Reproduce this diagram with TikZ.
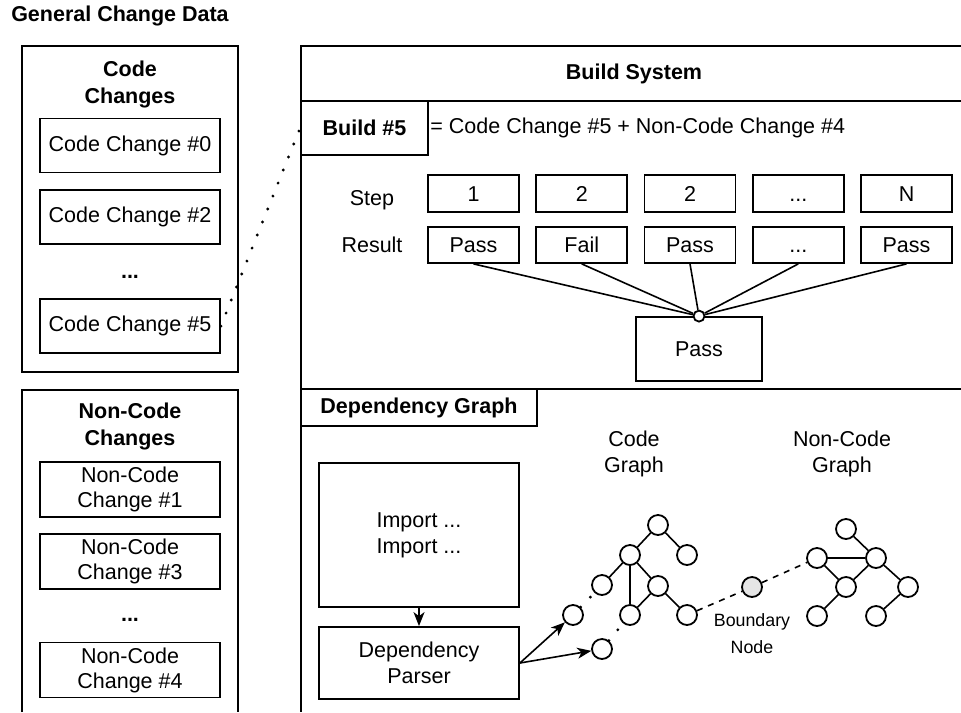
\documentclass[tikz,border=0pt]{standalone}
\usepackage{fontspec}
\setmainfont{Liberation Sans}
\usetikzlibrary{arrows.meta}
\newcommand{\stepDots}{...}

\begin{document}
\begin{tikzpicture}
[x=0.5pt,y=-0.5pt,
  font=\fontsize{10.75}{13}\selectfont,
  boxDecorate/.style={draw,line width=0.9pt,inner sep=0pt,align=center},
  stepDecorate/.style={boxDecorate,minimum width=45.5pt,text height=7.7pt,text depth=0pt},
  titleDecorate/.style={font=\fontsize{10.75}{13.5}\selectfont\bfseries,align=center,inner sep=0pt},
  circleDecorate/.style={shape=circle,draw,line width=0.9pt,minimum size=10pt,inner sep=0pt},
  lineDecorate/.style={-,line width=0.8pt},
  arrowDecorate/.style={-{Stealth[length=7pt,width=5.5pt,inset=2pt]},line width=0.8pt},
  dashDecorate/.style={line width=0.8pt,dash pattern=on 3pt off 3pt},
  dotDecorate/.style={line width=1.6pt,line cap=round,dash pattern=on 0pt off 7pt}]
\fill[white] (0,0) rectangle (961,712);
\useasboundingbox (0,0) rectangle (961,712);

%% frames
\draw[line width=0.9pt] (22,46) rectangle (238,372);
\draw[line width=0.9pt] (22,712) |- (238,390) -- (238,712);
\draw[line width=0.9pt] (961,46) -| (301,712);
\draw[line width=0.9pt] (301,101) -- (961,101) (301,389) -- (961,389);

%% general change data
\node[titleDecorate] (general) at (120,16) {General Change Data};
\node[titleDecorate] (codeTitle) at (130,84) {Code\\Changes};
\foreach \name/\y/\num in {cc0/145.5/0, cc2/217/2, cc5/326/5}
{
  \node[boxDecorate,minimum width=90pt,minimum height=27pt] (\name) at (130,\y) {Code Change \#\num};
}
\node[titleDecorate] (codeDots) at (130,277) {...};
\node[titleDecorate] (nonCodeTitle) at (130,426.5) {Non-Code\\Changes};
\foreach \name/\y/\num in {nc1/489.5/1, nc3/561.5/3, nc4/670/4}
{
  \node[boxDecorate,minimum width=90pt,minimum height=27.5pt,font=\fontsize{10.75}{12.5}\selectfont] (\name) at (130,\y) {Non-Code\\Change \#\num};
}
\node[titleDecorate] (nonCodeDots) at (130,620) {...};

%% build system
\node[titleDecorate] (buildTitle) at (634,73.5) {Build System};
\node[boxDecorate,minimum width=63.5pt,minimum height=27pt,font=\fontsize{10.75}{13}\selectfont\bfseries] (build) at (364.5,128) {Build \#5};
\node[anchor=west,inner sep=0pt] (formula) at (430,128) {= Code Change \#5 + Non-Code Change \#4};
\node (stepLabel) at (372,200) {Step};
\node (resultLabel) at (372,245) {Result};
\foreach \i/\step/\res in {0/1/Pass, 1/2/Fail, 2/2/Pass, 3/\stepDots/\stepDots, 4/N/Pass}
{
  \node[stepDecorate,minimum height=18.5pt] (step\i) at (473.5+108.25*\i,193.5) {\step};
  \node[stepDecorate,minimum height=18pt] (res\i) at (473.5+108.25*\i,245) {\res};
}
\node[boxDecorate,minimum width=63pt,minimum height=32pt] (pass) at (699,349) {Pass};
\node[circleDecorate,minimum size=5.5pt,fill=white] (junc) at (pass.north) {};
\foreach \i in {0,...,4}
{
  \draw[lineDecorate] (res\i.south) -- (junc);
}
\draw[dotDecorate] (cc5.east) -- (build.west);

%% dependency graph
\node[boxDecorate,minimum width=118pt,minimum height=18.5pt,font=\fontsize{10.75}{13}\selectfont\bfseries] (depTitle) at (419,407.5) {Dependency Graph};
\node[boxDecorate,minimum width=100pt,minimum height=72pt] (import) at (419,535) {Import ...\\Import ...};
\node[boxDecorate,minimum width=100pt,minimum height=36pt] (parser) at (419,663) {Dependency\\Parser};
\node[align=center] (codeLabel) at (634,453.5) {Code\\Graph};
\node[align=center] (nonCodeLabel) at (842,453.5) {Non-Code\\Graph};
\node[align=center,font=\fontsize{8.9}{13.5}\selectfont] (bndLabel) at (752,633.5) {Boundary\\Node};
\foreach \name/\x/\y in {
  %% code graph
  c1/658/525, c2/630/555, c3/687/555, c4/602/585, c5/658/586,
  c6/630/615, c7/687/615, c8/573/615, c9/602/649,
  %% non-code graph
  n1/846/529, n2/817/558, n3/876/558, n4/846/587, n5/908/587,
  n6/817/616, n7/876/616}
{
  \node[circleDecorate] (\name) at (\x,\y) {};
}
\node[circleDecorate,fill=black!10] (bnd) at (752,587) {};
\path
\foreach \startnode/\endnode in {
  c1/c2, c1/c3, c2/c4, c2/c6, c2/c5, c5/c6, c5/c7,
  n1/n3, n2/n3, n2/n4, n3/n4, n3/n5, n4/n6, n5/n7}
{
  (\startnode) edge[lineDecorate] (\endnode)
};
\draw[dotDecorate] (c8) -- (c4);
\draw[dotDecorate] (c9) -- (c6);
\draw[dashDecorate] (c7) -- (bnd) -- (n2);
\draw[arrowDecorate] (import) -- (parser);
\draw[arrowDecorate] (parser.east) -- (c8);
\draw[arrowDecorate] (parser.east) -- (c9);
\end{tikzpicture}
\end{document}
